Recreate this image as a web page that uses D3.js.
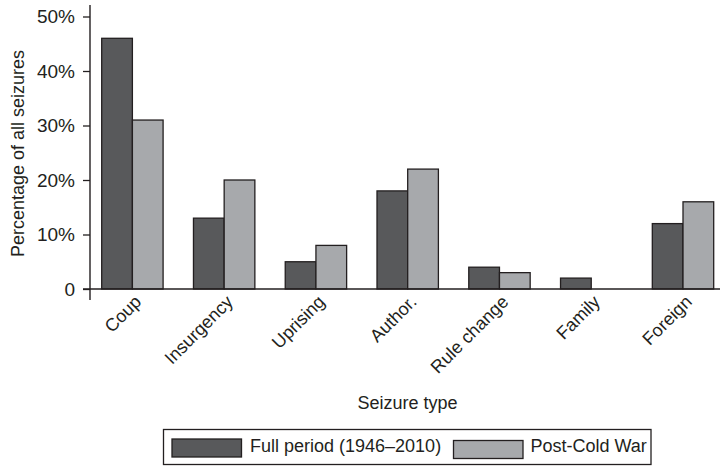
<!DOCTYPE html>
<html>
<head>
<meta charset="utf-8">
<script src="https://cdn.jsdelivr.net/npm/d3@7"></script>
<style>
  html, body { margin: 0; padding: 0; background: #fff; }
  svg { display: block; }
  text { font-family: "Liberation Sans", Arial, Helvetica, sans-serif; fill: #231f20; }
</style>
</head>
<body>
<svg id="chart" width="720" height="466"></svg>
<script>
const categories = ["Coup", "Insurgency", "Uprising", "Author.", "Rule change", "Family", "Foreign"];
const seriesNames = ["Full period (1946\u20132010)", "Post-Cold War"];
const fullPeriod = [46, 13, 5, 18, 4, 2, 12];
const postColdWar = [31, 20, 8, 22, 3, 0, 16];
const yTicks = [0, 10, 20, 30, 40, 50];
const yTickLabels = ["0", "10%", "20%", "30%", "40%", "50%"];
const colors = ["#58595b", "#a7a9ac"];
const strokeColor = "#231f20";

const svg = d3.select("#chart");

const y = d3.scaleLinear().domain([0, 50]).range([289, 16.5]);
const x0 = d3.scaleBand().domain(categories).range([101.7, 713.7]).paddingInner(0.331).paddingOuter(0);
const x1 = d3.scaleBand().domain([0, 1]).range([0, x0.bandwidth()]);

const seriesValues = [fullPeriod, postColdWar];

// Bars
const groups = svg.append("g").selectAll("g")
  .data(categories)
  .join("g")
  .attr("transform", d => `translate(${x0(d)},0)`);

groups.selectAll("rect")
  .data((d, i) => seriesValues.map((vals, s) => ({ s, v: vals[i] })))
  .join("rect")
  .attr("x", d => x1(d.s))
  .attr("width", x1.bandwidth())
  .attr("y", d => y(d.v))
  .attr("height", d => y(0) - y(d.v))
  .attr("fill", d => colors[d.s])
  .attr("stroke", strokeColor)
  .attr("stroke-width", 1.3)
  .attr("display", d => d.v === 0 ? "none" : null);

// Y axis
const yAxis = d3.axisLeft(y)
  .tickValues(yTicks)
  .tickFormat((d, i) => yTickLabels[i])
  .tickSize(7)
  .tickPadding(8);
const yg = svg.append("g").attr("transform", "translate(90,0)").call(yAxis);
yg.select(".domain").remove();
yg.selectAll(".tick line").attr("stroke", strokeColor).attr("stroke-width", 1.3);
yg.selectAll(".tick text")
  .style("font-family", "'Liberation Sans', Arial, sans-serif")
  .style("font-size", "19px")
  .attr("fill", strokeColor);

// Axis lines
svg.append("line").attr("x1", 90).attr("x2", 90).attr("y1", 5).attr("y2", 300)
  .attr("stroke", strokeColor).attr("stroke-width", 1.4);
svg.append("line").attr("x1", 83).attr("x2", 720).attr("y1", y(0)).attr("y2", y(0))
  .attr("stroke", strokeColor).attr("stroke-width", 1.4);

// X labels rotated
svg.append("g").selectAll("text")
  .data(categories)
  .join("text")
  .attr("transform", d => `translate(${x0(d) + x0.bandwidth() / 2 + 10},303) rotate(-45)`)
  .attr("text-anchor", "end")
  .style("font-size", "18px")
  .text(d => d);

// Axis titles
svg.append("text")
  .attr("transform", "translate(24,153.5) rotate(-90)")
  .attr("text-anchor", "middle")
  .style("font-size", "18px")
  .text("Percentage of all seizures");

svg.append("text")
  .attr("x", 407.5).attr("y", 409)
  .attr("text-anchor", "middle")
  .style("font-size", "18px")
  .text("Seizure type");

// Legend
const legend = svg.append("g");
legend.append("rect")
  .attr("x", 163.5).attr("y", 429.5).attr("width", 487.5).attr("height", 35)
  .attr("fill", "#fff").attr("stroke", strokeColor).attr("stroke-width", 1.3);
const legendItems = [
  { sx: 172, tx: 250 },
  { sx: 453.5, tx: 530.5 }
];
legendItems.forEach((it, i) => {
  legend.append("rect")
    .attr("x", it.sx).attr("y", 439 + i * 1.5).attr("width", 69.5).attr("height", 18)
    .attr("fill", colors[i]).attr("stroke", strokeColor).attr("stroke-width", 1.3);
  legend.append("text")
    .attr("x", it.tx).attr("y", 452)
    .style("font-size", "18px")
    .text(seriesNames[i]);
});
</script>
</body>
</html>
